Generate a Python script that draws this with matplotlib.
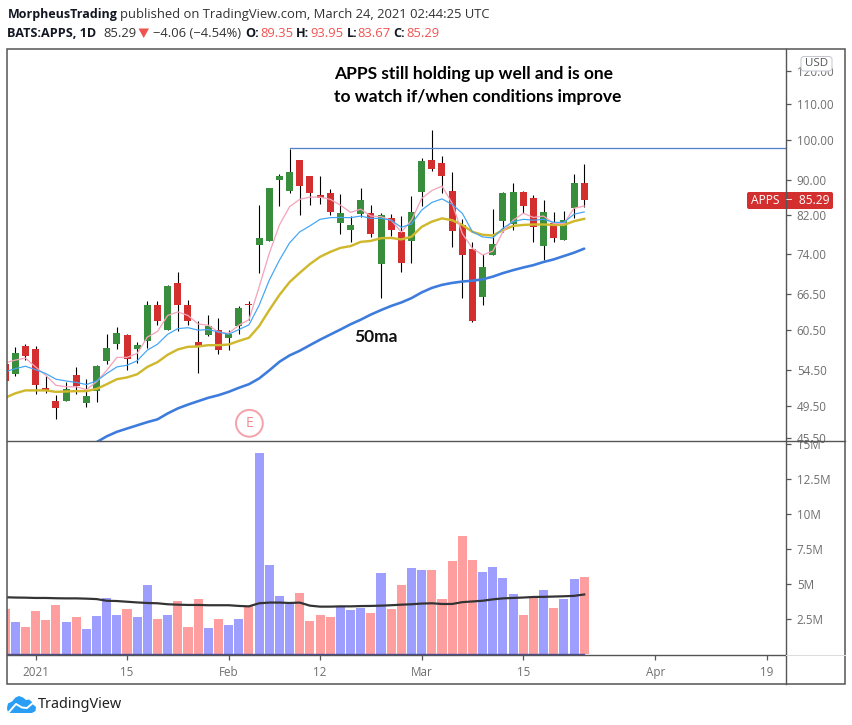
import numpy as np
import matplotlib
matplotlib.use("Agg")
import matplotlib.pyplot as plt
from matplotlib.patches import Polygon, Circle, FancyBboxPatch, Rectangle

W, H = 853, 725

# ---------- data ----------
opens = [55.3,53.9,58.05,57.6,51.95,50.2,50.2,53.7,49.95,51.55,55.7,58.4,59.75,57.5,58.8,64.7,60.6,68.55,64.7,58.7,59.75,60.45,59.3,61.15,64.9,75.8,76.6,90.05,87.4,94.9,
         90.9,86.4,87.0,80.3,78.9,82.3,82.5,72.1,81.4,78.5,76.6,87.1,94.9,94.2,87.4,79.9,75.0,66.0,73.8,80.7,80.1,87.2,85.7,75.6,80.3,76.8,83.65,89.35]
closes = [52.96,56.95,56.5,52.3,51.6,49.2,51.8,52.2,50.85,55.05,57.75,60.05,56.05,58.25,64.6,61.95,68.0,64.7,61.95,58.05,61.15,57.35,59.9,64.1,64.6,77.2,88.1,91.0,92.0,88.55,
          86.9,85.7,82.7,82.5,79.9,85.3,78.1,82.05,78.9,72.3,82.7,94.7,92.7,90.9,78.7,73.8,61.95,71.5,76.0,87.0,87.2,84.05,79.5,82.7,77.1,80.9,89.2,85.29]
highs = [56.0,57.85,58.4,58.05,53.6,51.0,52.8,54.9,53.2,55.2,59.9,61.0,59.9,58.7,65.3,65.3,68.2,70.6,65.45,61.95,63.0,62.45,60.45,64.45,65.3,84.3,88.1,91.3,97.6,94.9,
         91.0,91.0,87.9,86.6,81.8,88.1,84.3,82.5,82.3,81.8,86.2,95.4,102.6,95.9,92.0,81.1,76.4,74.0,83.4,87.2,89.2,87.4,86.4,85.3,82.7,82.9,91.5,93.95]
lows = [52.5,53.6,55.85,51.1,51.3,47.8,50.2,51.1,49.35,50.1,55.4,57.6,54.5,55.5,57.75,61.3,60.45,60.3,61.3,54.05,59.6,56.8,57.35,59.9,62.1,70.4,76.6,84.05,87.0,82.05,
        84.3,84.5,82.05,78.1,76.4,81.6,77.3,65.9,77.5,70.6,72.3,84.05,92.2,86.9,75.4,65.9,61.8,64.6,73.8,78.5,78.9,82.5,76.4,72.85,76.4,76.8,81.4,83.67]
ma_pink = [55.5,55.9,56.2,54.9,53.7,52.3,52.1,52.1,51.7,52.8,54.4,56.3,56.3,56.9,59.4,60.3,62.9,63.5,62.9,61.5,61.3,60.2,60.0,61.3,62.2,67.8,74.1,79.9,83.85,85.5,
           86.0,86.0,85.5,84.2,82.6,83.3,81.8,81.65,80.9,78.4,80.9,85.7,87.5,88.55,84.6,78.1,75.1,73.8,74.55,78.45,80.9,82.4,81.5,81.8,80.2,80.2,83.5,84.0]
ma_sky = [54.2,54.65,55.0,54.5,53.95,53.15,52.9,52.7,52.4,52.9,53.95,54.9,55.15,55.8,57.4,58.3,59.85,60.75,60.9,60.5,60.6,60.2,59.85,60.6,61.35,64.6,69.05,72.8,76.2,78.45,
          79.7,81.1,81.45,81.5,81.45,81.8,81.3,81.3,80.9,79.4,80.1,83.1,84.8,85.6,84.35,82.4,78.45,77.4,77.2,79.2,80.6,81.1,80.9,81.1,80.45,80.45,82.2,82.7]
ma_gold = [50.6,51.2,51.6,51.6,51.6,51.4,51.45,51.5,51.5,51.8,52.45,53.15,53.4,53.85,54.9,55.6,56.7,57.5,57.9,57.95,58.15,58.15,58.25,58.8,59.3,61.15,63.8,66.4,68.7,70.4,
           72.05,73.45,74.4,75.2,75.55,76.4,76.6,77.15,77.2,76.9,77.45,79.5,80.6,81.3,80.9,79.9,78.45,77.85,77.7,78.8,79.7,79.9,80.0,80.0,79.9,79.9,80.7,81.2]
ma_50 = [np.nan]*8 + [44.5,45.0,45.7,46.25,46.65,47.05,47.45,47.8,48.55,49.2,49.7,50.15,50.6,50.95,51.4,51.95,52.45,53.25,54.4,55.65,56.6,57.3,
         58.15,59.0,59.8,60.6,61.45,62.2,63.05,63.8,64.5,65.1,65.85,66.85,67.65,68.2,68.55,68.8,68.95,69.2,69.7,70.35,70.9,71.4,71.85,72.45,72.95,73.6,74.25,75.05]
volumes = [3.24,2.31,1.95,3.1,2.45,3.52,2.31,2.67,1.81,2.74,4.02,2.81,3.24,2.67,4.95,2.52,2.81,3.81,1.95,3.95,1.88,2.52,2.1,2.52,3.45,14.38,6.38,4.17,3.57,4.38,
           2.38,2.81,2.67,3.38,3.17,3.31,2.95,5.81,3.24,4.95,6.17,6.02,6.02,3.95,6.67,8.45,6.74,5.88,6.24,5.45,4.31,2.81,4.1,4.6,3.31,3.95,5.38,5.52]
vol_ma = [4.05,4.03,4.02,4.0,4.0,3.98,3.97,3.97,3.95,3.92,3.8,3.78,3.73,3.68,3.64,3.62,3.55,3.52,3.5,3.5,3.48,3.48,3.48,3.43,3.4,3.62,3.67,3.67,3.64,3.67,
          3.45,3.38,3.38,3.4,3.4,3.42,3.43,3.45,3.48,3.52,3.55,3.6,3.62,3.57,3.57,3.7,3.75,3.8,3.9,3.97,4.0,4.03,4.07,4.08,4.1,4.12,4.15,4.25]
resistance = 97.8
resistance_start = 28
price_ticks = [120, 110, 100, 90, 82, 74, 66.5, 60.5, 54.5, 49.5, 45.5]
price_labels = ["120.00", "110.00", "100.00", "90.00", "82.00", "74.00", "66.50", "60.50", "54.50", "49.50", "45.50"]
vol_ticks = [2.5, 5, 7.5, 10, 12.5, 15]
vol_labels = ["2.5M", "5M", "7.5M", "10M", "12.5M", "15M"]
time_ticks = [3, 12, 22, 31, 41, 51, 64, 75]
time_labels = ["2021", "15", "Feb", "12", "Mar", "15", "Apr", "19"]

# ---------- layout ----------
UI = "Open Sans"
GREY = "#6f6f6f"
FRAME = "#555555"
L, R, T, MID, BOT = 7.5, 786.3, 49.0, 440.5, 654.5
X0, STEP = 5.1, 10.16
idx = np.arange(len(opens))
o, c, h, l = map(np.array, (opens, closes, highs, lows))
up = c >= o

fig = plt.figure(figsize=(W/100, H/100), dpi=100, facecolor="white")

def add_ax(x0, x1, y0, y1, **kw):
    return fig.add_axes([x0/W, 1 - y1/H, (x1-x0)/W, (y1-y0)/H], **kw)

xlim = ((L-X0)/STEP, (R-X0)/STEP)
ax = add_ax(L, R, T, MID)
axv = add_ax(L, R, MID, BOT)
px = 0.72

# price panel
ax.set_yscale("log")
ax.set_xlim(*xlim)
ax.set_ylim(45.2, 127.2)
ax.vlines(idx, l, h, color="black", lw=1.1*px, zorder=2)
ax.bar(idx, np.abs(c-o), bottom=np.minimum(o, c), width=0.69,
       color=np.where(up, "#388e3c", "#d32f2f"), linewidth=0, zorder=3)
ax.plot(idx, ma_50, color="#3d7cdc", lw=2.6*px, zorder=4, solid_capstyle="round")
ax.plot(idx, ma_gold, color="#cfb82c", lw=2.4*px, zorder=5)
ax.plot(idx, ma_pink, color="#f4a5bb", lw=1.3*px, zorder=5)
ax.plot(idx, ma_sky, color="#42a5f5", lw=1.2*px, zorder=6)
ax.plot([resistance_start, xlim[1]], [resistance, resistance], color="#4f82c9", lw=1.3*px, zorder=4)
ax.yaxis.tick_right()
ax.set_yticks(price_ticks)
ax.set_yticklabels(price_labels, fontsize=8.4, color=GREY, family=UI)
ax.yaxis.set_minor_locator(matplotlib.ticker.NullLocator())
ax.tick_params(axis="y", length=3.6, width=0.9, color=FRAME, pad=4)
ax.set_xticks([])

# volume panel
axv.set_xlim(*xlim)
axv.set_ylim(-0.04, 15.25)
axv.bar(idx, volumes, width=0.89, color=np.where(up, "#9e9eff", "#ff9e9e"), linewidth=0, zorder=2)
axv.plot(idx, vol_ma, color="#333333", lw=2.2*px, zorder=3)
axv.plot(idx, np.zeros(len(idx)), color="#4a4a9a", lw=1.4*px, zorder=4)
axv.yaxis.tick_right()
axv.set_yticks(vol_ticks)
axv.set_yticklabels(vol_labels, fontsize=8.4, color=GREY, family=UI)
axv.tick_params(axis="y", length=3.6, width=0.9, color=FRAME, pad=4)
axv.set_xticks(time_ticks)
axv.set_xticklabels(time_labels, fontsize=8.4, color=GREY, family=UI)
axv.tick_params(axis="x", length=3.6, width=0.9, color=FRAME, pad=5)
for a in (ax, axv):
    for s in a.spines.values():
        s.set_visible(False)

# overlay in pixel space: frame, header, labels
ov = fig.add_axes([0, 0, 1, 1], facecolor="none", zorder=10)
ov.set_xlim(0, W)
ov.set_ylim(H, 0)
ov.set_axis_off()
ov.add_patch(Rectangle((L, T), 845.2-L, 684-T, fill=False, ec=FRAME, lw=1.4*px*1.1))
ov.plot([R, R], [T, 684], color=FRAME, lw=1.4*px)
ov.plot([L, 845.2], [MID, MID], color=FRAME, lw=1.4*px)
ov.plot([L, R], [BOT, BOT], color=FRAME, lw=1.4*px)
ov.plot([R, 845.2], [BOT, BOT], color="#dddddd", lw=1*px)

def t(x, y, s, size=13, color="#131722", weight="normal", ha="left", family=UI, **kw):
    return ov.text(x, y, s, fontsize=size*px, color=color, weight=weight, ha=ha, va="center", family=family, **kw)

t(7.5, 14.5, "MorpheusTrading", weight="bold", size=12.5)
t(120.5, 14.5, "published on TradingView.com, March 24, 2021 02:44:25 UTC", color="#333333")
t(7.5, 33.5, "BATS:APPS, 1D", weight="bold", size=12.6)
t(103, 33.5, "85.29", color="#333333")
ov.add_patch(Polygon([[138.5, 28.5], [149, 28.5], [143.7, 38]], closed=True, fc="#ef5350", ec="none"))
t(153, 33.5, "\u22124.06 (\u22124.54%)", color="#333333")
RED = "#ef5350"
for xl, lab, xv, val in [(245, "O:", 260.5, "89.35"), (296, "H:", 310, "93.95"),
                         (347, "L:", 357.5, "83.67"), (393.5, "C:", 406, "85.29")]:
    t(xl, 33.5, lab, weight="bold", size=12.6)
    t(xv, 33.5, val, color=RED)

# annotations
t(334, 74, "APPS still holding up well and is one", size=17.35, color="black", weight="bold", family="Lato")
t(334, 96.5, "to watch if/when conditions improve", size=17.35, color="black", weight="bold", family="Lato")
t(375.5, 336.5, "50ma", size=17.4, color="#111111", weight="bold", family="Lato", ha="center")

# USD badge and price tag
ov.add_patch(FancyBboxPatch((803, 58.5), 27, 10.5, boxstyle="round,pad=2,rounding_size=3", fc="white",
                            ec="#c4c7d0", lw=1*px))
t(816.5, 63.5, "USD", size=11.5, color="#555555", ha="center")
ov.add_patch(FancyBboxPatch((748.5, 193.5), 83, 14, boxstyle="round,pad=1.5,rounding_size=2", fc="#d32f2f", ec="none"))
t(790.5, 200.8, "APPS  \u2212  85.29", size=12, color="white", ha="center", weight=500)

# earnings marker
ov.add_patch(Circle((249.4, 423.3), 13.4, fill=False, ec="#f5a3ab", lw=2*px))
t(249.4, 423.3, "E", size=14, color="#f08a92", ha="center")

# logo
cloud = [[7, 708], [8, 703.5], [12, 701.5], [15.5, 697.5], [19, 696], [23, 697.5], [26, 700], [29, 699.5],
         [32, 702], [33, 704.5], [36, 707], [35.5, 711], [32, 713], [10, 713], [7.5, 711]]
ov.add_patch(Polygon(cloud, closed=True, fc="#2a9df4", ec="none"))
ov.plot([9, 16, 22, 27, 34], [712, 704, 707.5, 708, 702], color="white", lw=1.4)
t(38, 704.5, "TradingView", size=14.4, color="#222222", family="Noto Sans")

fig.savefig("out.png", dpi=100, facecolor="white")
